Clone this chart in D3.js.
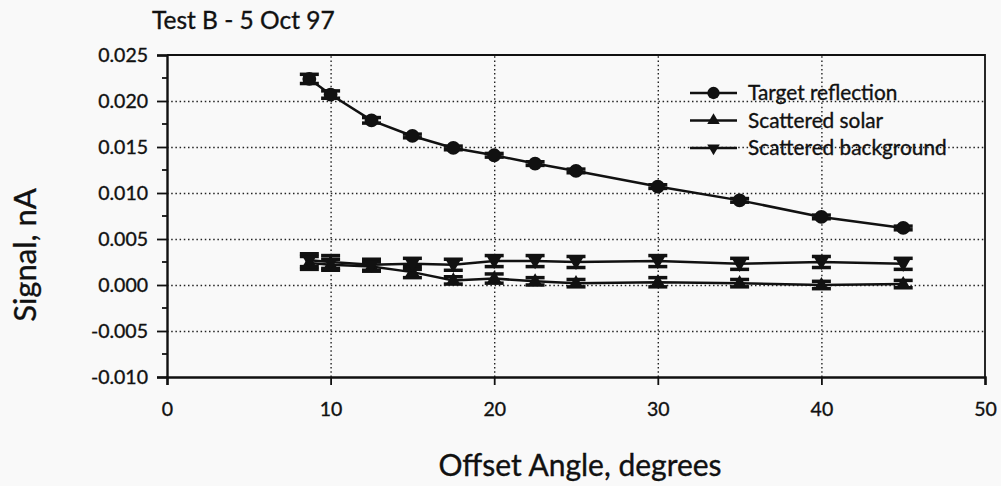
<!DOCTYPE html>
<html>
<head>
<meta charset="utf-8">
<script src="https://cdn.jsdelivr.net/npm/d3@7"></script>
<style>
  body { margin: 0; background: #f9f9f9; }
  svg { display: block; font-family: Lato, "Open Sans", sans-serif; }
  svg text { stroke: #111; stroke-width: 0.35px; }
  .grid line { stroke: #222; stroke-width: 1.4; stroke-dasharray: 1.5 2.7; }
  .grid path { display: none; }
</style>
</head>
<body>
<div id="chart"></div>
<script>
// Offset angles (degrees)
const angles = [8.7, 10, 12.5, 15, 17.5, 20, 22.5, 25, 30, 35, 40, 45];

// Signal in nA
const targetReflection = [0.0224, 0.0207, 0.0179, 0.0162, 0.0149, 0.0141, 0.0132, 0.0124, 0.0107, 0.0092, 0.0074, 0.0062];
const targetErr = [0.0005, 0.0004, 0.0003, 0.0002, 0.0002, 0.0002, 0.0002, 0.0002, 0.0002, 0.0002, 0.0002, 0.0002];

const scatteredSolar = [0.0024, 0.0022, 0.0020, 0.0014, 0.0005, 0.0007, 0.0004, 0.0002, 0.0003, 0.0002, 0.0000, 0.0001];
const solarErr = [0.0007, 0.0006, 0.0005, 0.0006, 0.0004, 0.0005, 0.0004, 0.0004, 0.0005, 0.0004, 0.0004, 0.0004];

const scatteredBackground = [0.0027, 0.0025, 0.0022, 0.0023, 0.0022, 0.0026, 0.0026, 0.0025, 0.0026, 0.0023, 0.0025, 0.0023];
const backgroundErr = [0.0007, 0.0007, 0.0006, 0.0006, 0.0006, 0.0006, 0.0006, 0.0006, 0.0006, 0.0006, 0.0006, 0.0006];

const seriesNames = ['Target reflection', 'Scattered solar', 'Scattered background'];
const xTicks = [0, 10, 20, 30, 40, 50];
const yTicks = [-0.010, -0.005, 0.000, 0.005, 0.010, 0.015, 0.020, 0.025];

const width = 1001;
const height = 486;
const margin = {top: 55, right: 16, bottom: 109, left: 167};
const usableArea = {
    top: margin.top,
    right: width - margin.right,
    bottom: height - margin.bottom,
    left: margin.left,
};

const svg = d3.select('#chart')
    .append('svg')
    .attr('width', width)
    .attr('height', height);

const xScale = d3.scaleLinear().domain([0, 50]).range([usableArea.left, usableArea.right]);
const yScale = d3.scaleLinear().domain([-0.010, 0.025]).range([usableArea.bottom, usableArea.top]);

// dotted gridlines first
svg.append('g')
    .attr('class', 'grid')
    .attr('transform', `translate(${usableArea.left},0)`)
    .call(d3.axisLeft(yScale).tickValues(yTicks.slice(1, -1)).tickFormat('')
        .tickSize(-(usableArea.right - usableArea.left)));

svg.append('g')
    .attr('class', 'grid')
    .attr('transform', `translate(0,${usableArea.bottom})`)
    .call(d3.axisBottom(xScale).tickValues(xTicks.slice(1, -1)).tickFormat('')
        .tickSize(-(usableArea.bottom - usableArea.top)));

// frame top + right
svg.append('path')
    .attr('d', `M${usableArea.left},${usableArea.top}H${usableArea.right}V${usableArea.bottom}`)
    .attr('fill', 'none')
    .attr('stroke', '#111')
    .attr('stroke-width', 1.8);

// minor y ticks (half steps)
const minor = d3.range(-0.0075, 0.025, 0.005);
svg.append('g')
    .selectAll('line')
    .data(minor)
    .join('line')
    .attr('x1', usableArea.left - 5)
    .attr('x2', usableArea.left)
    .attr('y1', (d) => yScale(d))
    .attr('y2', (d) => yScale(d))
    .attr('stroke', '#111')
    .attr('stroke-width', 1.8);

// axes
const yAxis = svg.append('g')
    .attr('transform', `translate(${usableArea.left},0)`)
    .call(d3.axisLeft(yScale).tickValues(yTicks).tickSize(10).tickPadding(9));

const xAxis = svg.append('g')
    .attr('transform', `translate(0,${usableArea.bottom})`)
    .call(d3.axisBottom(xScale).tickValues(xTicks).tickSize(8).tickPadding(17));

[xAxis, yAxis].forEach((ax) => {
    ax.select('.domain').attr('stroke', '#111').attr('stroke-width', 2.4);
    ax.selectAll('.tick line').attr('stroke', '#111').attr('stroke-width', 1.8);
    ax.selectAll('text').attr('fill', '#111').style('font-size', '19.5px').style('font-family', 'Lato, sans-serif');
});
yAxis.selectAll('text').text((d) => d3.format('.3f')(d).replace('−', '-'));

// series
const series = [
    {name: seriesNames[0], values: targetReflection, err: targetErr, symbol: d3.symbolCircle, size: 150, rot: 0},
    {name: seriesNames[1], values: scatteredSolar, err: solarErr, symbol: d3.symbolTriangle, size: 85, rot: 0},
    {name: seriesNames[2], values: scatteredBackground, err: backgroundErr, symbol: d3.symbolTriangle, size: 85, rot: 180},
];

const line = d3.line()
    .x((d) => xScale(d.x))
    .y((d) => yScale(d.y));

series.forEach((s) => {
    const pts = angles.map((a, i) => ({x: a, y: s.values[i], e: s.err[i]}));
    const g = svg.append('g');

    g.append('path')
        .datum(pts)
        .attr('d', line)
        .attr('fill', 'none')
        .attr('stroke', '#111')
        .attr('stroke-width', 2.5);

    // error bars
    const eb = g.selectAll('.eb').data(pts).join('g').attr('class', 'eb');
    eb.append('line')
        .attr('x1', (d) => xScale(d.x)).attr('x2', (d) => xScale(d.x))
        .attr('y1', (d) => yScale(d.y - d.e)).attr('y2', (d) => yScale(d.y + d.e))
        .attr('stroke', '#111').attr('stroke-width', 3);
    [-1, 1].forEach((sgn) => {
        eb.append('line')
            .attr('x1', (d) => xScale(d.x) - 9.5).attr('x2', (d) => xScale(d.x) + 9.5)
            .attr('y1', (d) => yScale(d.y + sgn * d.e)).attr('y2', (d) => yScale(d.y + sgn * d.e))
            .attr('stroke', '#111').attr('stroke-width', 3.5);
    });

    g.selectAll('.pt')
        .data(pts)
        .join('path')
        .attr('class', 'pt')
        .attr('d', d3.symbol().type(s.symbol).size(s.size))
        .attr('transform', (d) => `translate(${xScale(d.x)},${yScale(d.y)}) rotate(${s.rot})`)
        .attr('fill', '#111');
});

// legend
const legend = svg.append('g').attr('transform', 'translate(690,93)');
series.forEach((s, i) => {
    const row = legend.append('g').attr('transform', `translate(0,${i * 27.5})`);
    row.append('line').attr('x1', 0).attr('x2', 47).attr('y1', 0).attr('y2', 0)
        .attr('stroke', '#111').attr('stroke-width', 2.5);
    row.append('path')
        .attr('d', d3.symbol().type(s.symbol).size(s.size * 0.8))
        .attr('transform', `translate(23.5,0) rotate(${s.rot})`)
        .attr('fill', '#111');
    row.append('text')
        .attr('x', 58).attr('y', 0).attr('dy', '0.35em')
        .attr('fill', '#111')
        .style('font-size', '20.8px')
        .text(s.name);
});

// title and axis labels
svg.append('text')
    .attr('x', 152).attr('y', 29)
    .attr('fill', '#111')
    .style('font-size', '24.5px')
    .text('Test B - 5 Oct 97');

svg.append('text')
    .attr('transform', `translate(36,255) rotate(-90)`)
    .attr('text-anchor', 'middle')
    .attr('fill', '#111')
    .style('font-size', '31px')
    .text('Signal, nA');

svg.append('text')
    .attr('x', 580).attr('y', 476)
    .attr('text-anchor', 'middle')
    .attr('fill', '#111')
    .style('font-size', '30px')
    .text('Offset Angle, degrees');
</script>
</body>
</html>
